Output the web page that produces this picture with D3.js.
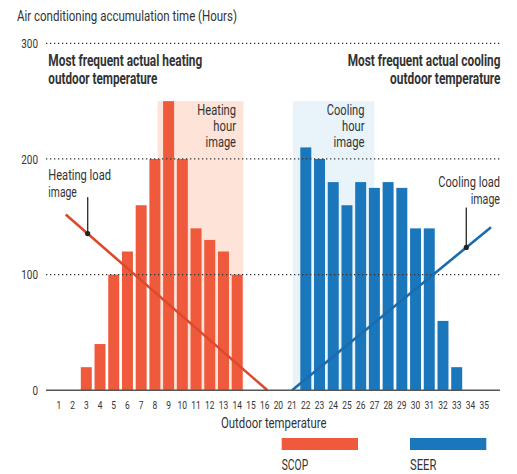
<!DOCTYPE html>
<html>
<head>
<meta charset="utf-8">
<script src="https://cdn.jsdelivr.net/npm/d3@7"></script>
<style>
  body { margin: 0; background: #fff; }
  svg { display: block; }
  text { font-family: Roboto, "Liberation Sans", "DejaVu Sans", sans-serif; fill: #333; }
</style>
</head>
<body>
<svg id="chart" width="517" height="474"></svg>
<script>
// Outdoor temperature categories on the x axis (the axis skips 17–19)
const temperatures = ["1","2","3","4","5","6","7","8","9","10","11","12","13","14","15","16",
                      "20","21","22","23","24","25","26","27","28","29","30","31","32","33","34","35"];

// Heating season (SCOP): accumulated operating hours per outdoor temperature
const heatingTemps = ["3","4","5","6","7","8","9","10","11","12","13","14"];
const heatingHours = [20, 40, 100, 120, 160, 200, 250, 200, 140, 130, 120, 100];

// Cooling season (SEER): accumulated operating hours per outdoor temperature
const coolingTemps = ["22","23","24","25","26","27","28","29","30","31","32","33"];
const coolingHours = [210, 200, 180, 160, 180, 175, 180, 175, 140, 140, 60, 20];

const yTicks = [0, 100, 200, 300];

// Load curves as [temperature, hours]
const heatingLoad = [[1.5, 152], [16.2, 0]];
const coolingLoad = [[21, 0], [35.5, 141]];

// Callout points on the load curves: [temperature on the curve, hours at the label end]
const heatingCallout = [3.1, 167];
const coolingCallout = [33.7, 158];

// Highlighted "hour image" spans: [from temperature, to temperature, top hours]
const heatingHourSpan = [8.2, 14.45, 250];
const coolingHourSpan = [21.05, 27, 250];

const legendItems = ["SCOP", "SEER"];

const RED = "#ef5a3d", RED_LINE = "#dc4a2e", RED_SHADE = "#fde3d8";
const BLUE = "#1b77bc", BLUE_LINE = "#1a6cad", BLUE_SHADE = "#e8f4fa";

const svg = d3.select("#chart");

const x = d3.scaleBand().domain(temperatures).range([52, 491]).paddingInner(0.2).paddingOuter(0.1);
const y = d3.scaleLinear().domain([0, 300]).range([390.3, 43.3]);

// Continuous position along the category axis, so fractional temperatures can be placed
const slot = d3.scaleLinear()
  .domain([0, temperatures.length - 1])
  .range([x(temperatures[0]) + x.bandwidth() / 2, x(temperatures[temperatures.length - 1]) + x.bandwidth() / 2]);
function xAt(t) {
  const base = Math.floor(t);
  return slot(temperatures.indexOf(String(base)) + (t - base));
}
function yOnLine(pts, t) {
  const [[t0, v0], [t1, v1]] = pts;
  return v0 + (v1 - v0) * (t - t0) / (t1 - t0);
}

// Condensed text: draw at the origin, then squeeze horizontally around the anchor
function squeezed(parent, txt, xPos, yPos, size, opts = {}) {
  const t = parent.append("text")
    .attr("font-size", size)
    .attr("font-weight", opts.weight || 400)
    .attr("text-anchor", opts.anchor || "start")
    .attr("dy", opts.dy || null)
    .attr("fill", opts.fill || null)
    .text(txt);
  const natural = t.node().getComputedTextLength();
  const k = opts.width ? opts.width / natural : (opts.k || 1);
  t.attr("transform", `translate(${xPos},${yPos}) scale(${k},1)`);
  return t;
}

// Shaded spans
[[heatingHourSpan, RED_SHADE], [coolingHourSpan, BLUE_SHADE]].forEach(([s, c]) => {
  svg.append("rect")
    .attr("x", xAt(s[0])).attr("y", y(s[2]))
    .attr("width", xAt(s[1]) - xAt(s[0])).attr("height", y(0) - y(s[2]))
    .attr("fill", c);
});

// Bars
svg.append("g").selectAll("rect").data(heatingTemps).join("rect")
  .attr("x", d => x(d)).attr("width", x.bandwidth())
  .attr("y", (d, i) => y(heatingHours[i])).attr("height", (d, i) => y(0) - y(heatingHours[i]))
  .attr("fill", RED);
svg.append("g").selectAll("rect").data(coolingTemps).join("rect")
  .attr("x", d => x(d)).attr("width", x.bandwidth())
  .attr("y", (d, i) => y(coolingHours[i])).attr("height", (d, i) => y(0) - y(coolingHours[i]))
  .attr("fill", BLUE);

// Dotted grid lines
svg.append("g").selectAll("line").data(yTicks.filter(d => d > 0)).join("line")
  .attr("x1", 46).attr("x2", 500).attr("y1", d => y(d)).attr("y2", d => y(d))
  .attr("stroke", "#333").attr("stroke-width", 1.3).attr("stroke-dasharray", "1.3,2.7");

// Load lines
const line = d3.line().x(d => xAt(d[0])).y(d => y(d[1]));
svg.append("path").datum(heatingLoad).attr("d", line)
  .attr("fill", "none").attr("stroke", RED_LINE).attr("stroke-width", 2.6);
svg.append("path").datum(coolingLoad).attr("d", line)
  .attr("fill", "none").attr("stroke", BLUE_LINE).attr("stroke-width", 2.6);

// Baseline
svg.append("line").attr("x1", 46).attr("x2", 500).attr("y1", y(0)).attr("y2", y(0))
  .attr("stroke", "#555").attr("stroke-width", 1.6);

// Callouts
[[heatingCallout, heatingLoad], [coolingCallout, coolingLoad]].forEach(([c, pts]) => {
  const cx = xAt(c[0]), cy = y(yOnLine(pts, c[0]));
  svg.append("line").attr("x1", cx).attr("x2", cx).attr("y1", y(c[1])).attr("y2", cy)
    .attr("stroke", "#333").attr("stroke-width", 1.4);
  svg.append("circle").attr("cx", cx).attr("cy", cy).attr("r", 2.6).attr("fill", "#222");
});

// Y tick labels
const yLabels = svg.append("g");
yTicks.forEach(d => squeezed(yLabels, d, 38, y(d), 12.7, { anchor: "end", dy: "0.36em", k: 0.78 }));

// X tick labels
const xLabels = svg.append("g");
temperatures.forEach(d =>
  squeezed(xLabels, d, x(d) + x.bandwidth() / 2, 409, 11.7, { anchor: "middle", k: 0.72, fill: "#444" }));

// Title and text blocks
const notes = svg.append("g");
squeezed(notes, "Air conditioning accumulation time (Hours)", 17, 21, 15, { width: 220 });

squeezed(notes, "Most frequent actual heating", 48.3, 65.7, 16, { width: 154, weight: 700 });
squeezed(notes, "outdoor temperature", 48.3, 83.5, 16, { width: 109, weight: 700 });
squeezed(notes, "Most frequent actual cooling", 500.5, 65.9, 16, { width: 153, weight: 700, anchor: "end" });
squeezed(notes, "outdoor temperature", 500.5, 83.7, 16, { width: 110.5, weight: 700, anchor: "end" });

squeezed(notes, "Heating", 236, 114.5, 14.2, { width: 38.7, anchor: "end" });
squeezed(notes, "hour", 236, 130.5, 14.2, { width: 22.7, anchor: "end" });
squeezed(notes, "image", 236, 146.5, 14.2, { width: 30.5, anchor: "end" });
squeezed(notes, "Cooling", 364.5, 114.5, 14.2, { width: 37.7, anchor: "end" });
squeezed(notes, "hour", 364.5, 130.5, 14.2, { width: 22.5, anchor: "end" });
squeezed(notes, "image", 364.5, 146.5, 14.2, { width: 31, anchor: "end" });

squeezed(notes, "Heating load", 48.3, 179.5, 15, { width: 62.7 });
squeezed(notes, "image", 48.3, 196.5, 15, { width: 28.5 });
squeezed(notes, "Cooling load", 500, 186.5, 15, { width: 61.7, anchor: "end" });
squeezed(notes, "image", 500, 204, 15, { width: 29.3, anchor: "end" });

squeezed(notes, "Outdoor temperature", 273.8, 427.7, 15, { width: 105.7, anchor: "middle" });

// Legend
const legendX = [281.7, 410];
[RED, BLUE].forEach((c, i) => {
  svg.append("rect").attr("x", legendX[i]).attr("y", 438).attr("width", 76.3).attr("height", 12).attr("fill", c);
  squeezed(notes, legendItems[i], legendX[i], 470, 15, { width: 26.5 });
});
</script>
</body>
</html>
